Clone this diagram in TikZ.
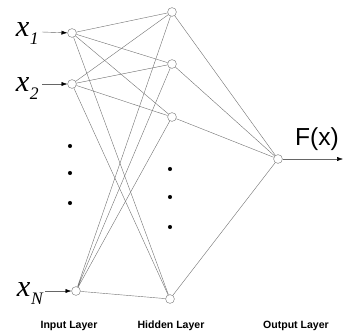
\documentclass[tikz,border=0pt]{standalone}
\usepackage{amsmath}
\usepackage{fontspec}
\setsansfont{Liberation Sans}
\newfontfamily\varfont{Liberation Serif}
\usepackage{tikz}
\usetikzlibrary{arrows.meta}

% input label: italic x with a low italic index
\newcommand{\inlabel}[1]{{\varfont\itshape\fontsize{26}{28}\selectfont x\kern0.5pt\raisebox{-7pt}{\fontsize{15}{16}\selectfont #1}}}

\begin{document}
\begin{tikzpicture}[x=0.03cm, y=-0.03cm,
    neuron/.style={draw=gray, fill=white, circle, inner sep=0pt, minimum size=7.5pt, line width=0.4pt},
    link/.style={draw=gray!90!black, line width=0.35pt},
    feed/.style={-{Latex[length=5pt,width=3.5pt,color=black]}, line width=0.35pt, draw=gray!80!black},
    varname/.style={anchor=base east, inner sep=0pt},
    layername/.style={font=\sffamily\bfseries\fontsize{9}{10}\selectfont},
    dot/.style={fill=black, circle, inner sep=0pt, minimum size=3.5pt}]
        \useasboundingbox (0,0) rectangle (343,332);

        % Define coordinates
        \coordinate (c1) at (42,32);
        \coordinate (c2) at (42,84);
        \coordinate (cN) at (45,291);
        \coordinate (out) at (343,159);

        % Input layer
        \node[neuron] (in1) at (72,33) {};
        \node[neuron] (in2) at (72,84) {};
        \node[neuron] (inN) at (76,291) {};
        \node[dot] (d1) at (70,146) {};
        \node[dot] (d2) at (70,173) {};
        \node[dot] (d3) at (70,203) {};

        % Hidden layer
        \node[neuron] (h1) at (172,12) {};
        \node[neuron] (h2) at (172,64) {};
        \node[neuron] (h3) at (172,117) {};
        \node[neuron] (hM) at (170,299) {};
        \node[dot] (e1) at (170,169) {};
        \node[dot] (e2) at (170,197) {};
        \node[dot] (e3) at (170,227) {};

        % Output layer
        \node[neuron] (o) at (278,159) {};

        % Draw the weights from inputs to hidden units
        \draw[link] (in1) -- (h1) (in1) -- (h2) (in1) -- (h3) (in1) -- (hM);
        \draw[link] (in2) -- (h1) (in2) -- (h2) (in2) -- (h3) (in2) -- (hM);
        \draw[link] (inN) -- (h1) (inN) -- (h2) (inN) -- (h3) (inN) -- (hM);

        % Draw the weights from hidden units to output
        \draw[link] (h1) -- (o) (h2) -- (o) (h3) -- (o) (hM) -- (o);

        % Inputs and output
        \draw[feed] (c1) -- (in1);
        \draw[feed] (c2) -- (in2);
        \draw[feed] (cN) -- (inN);
        \draw[feed] (o) -- (out);
        \node[varname] (x1) at (39,36) {\inlabel{1}};
        \node[varname] (x2) at (39,91) {\inlabel{2}};
        \node[varname] (xN) at (43,296) {\inlabel{N}};
        \node[font=\sffamily\fontsize{21}{24}\selectfont] (fx) at (317,139) {F(x)};

        % Layer names
        \node[layername] (lin) at (69,326) {Input Layer};
        \node[layername] (lhid) at (171,326) {Hidden Layer};
        \node[layername] (lout) at (296,326) {Output Layer};
      \end{tikzpicture}
\end{document}
